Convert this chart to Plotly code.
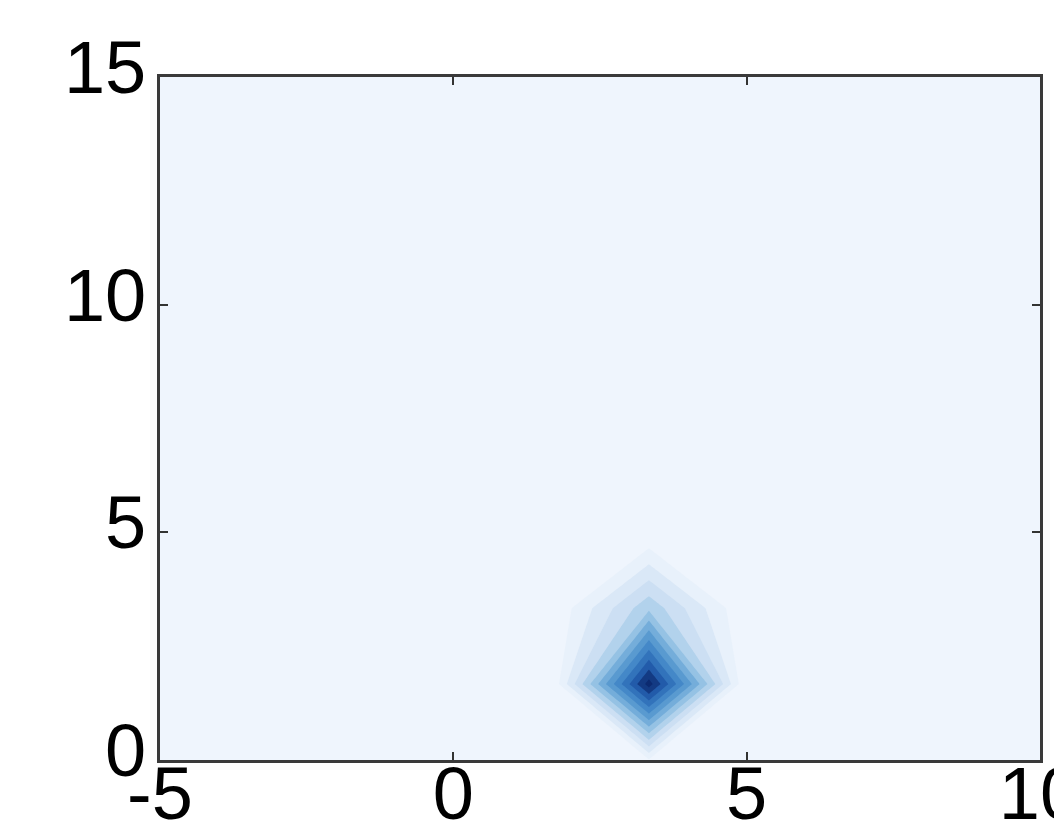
import numpy as np
import plotly.graph_objects as go

# grid coordinates
x_vals = [-5.0, -3.3333, -1.6667, 0.0, 1.6667, 3.3333, 5.0, 6.6667, 8.3333, 10.0]
y_vals = [0.0, 1.6667, 3.3333, 5.0, 6.6667, 8.3333, 10.0, 11.6667, 13.3333, 15.0]

# surface values, one list per y row
z_row0 = [0, 0, 0, 0, 0, 0.075, 0, 0, 0, 0]
z_row1 = [0, 0, 0, 0, 0, 1.0, 0, 0, 0, 0]
z_row2 = [0, 0, 0, 0, 0, 0.38, 0, 0, 0, 0]
z_row3 = [0, 0, 0, 0, 0, 0, 0, 0, 0, 0]
z_row4 = [0, 0, 0, 0, 0, 0, 0, 0, 0, 0]
z_row5 = [0, 0, 0, 0, 0, 0, 0, 0, 0, 0]
z_row6 = [0, 0, 0, 0, 0, 0, 0, 0, 0, 0]
z_row7 = [0, 0, 0, 0, 0, 0, 0, 0, 0, 0]
z_row8 = [0, 0, 0, 0, 0, 0, 0, 0, 0, 0]
z_row9 = [0, 0, 0, 0, 0, 0, 0, 0, 0, 0]
z_grid = [z_row0, z_row1, z_row2, z_row3, z_row4, z_row5, z_row6, z_row7, z_row8, z_row9]

x_ticks = [-5, 0, 5, 10]
y_ticks = [0, 5, 10, 15]

colorscale = [
    [0.0, "rgb(239,245,253)"],
    [0.1, "rgb(224,236,249)"],
    [0.25, "rgb(200,221,242)"],
    [0.4, "rgb(152,196,229)"],
    [0.55, "rgb(98,162,212)"],
    [0.7, "rgb(64,132,198)"],
    [0.85, "rgb(36,96,176)"],
    [1.0, "rgb(12,42,112)"],
]

fig = go.Figure(
    go.Contour(
        x=x_vals,
        y=y_vals,
        z=z_grid,
        zmin=0,
        zmax=1,
        colorscale=colorscale,
        contours=dict(start=0.08, end=1.0, size=0.08, coloring="fill", showlines=False),
        line=dict(width=0, smoothing=0),
        showscale=False,
        hoverinfo="skip",
    )
)

axis_common = dict(
    showgrid=False,
    zeroline=False,
    ticks="inside",
    ticklen=8,
    tickwidth=2,
    tickcolor="#333",
    showline=True,
    linecolor="#3a3a3a",
    linewidth=3,
    mirror="ticks",
    automargin=False,
    ticklabeloverflow="allow",
    tickfont=dict(family="Liberation Sans, Arial, sans-serif", size=74, color="black"),
)

fig.update_xaxes(range=[-5, 10], tickvals=x_ticks, ticktext=[str(v) for v in x_ticks],
                 ticklabelstandoff=-33, **axis_common)
fig.update_yaxes(range=[0, 15], tickvals=y_ticks, ticktext=[str(v) for v in y_ticks],
                 ticklabelstandoff=-4, ticklabelshift=-10, **axis_common)

fig.update_layout(
    width=1062,
    height=828,
    margin=dict(l=152, r=30, t=69, b=76, pad=0),
    paper_bgcolor="white",
    plot_bgcolor="rgb(239,245,253)",
)

fig.write_html("out.html")
